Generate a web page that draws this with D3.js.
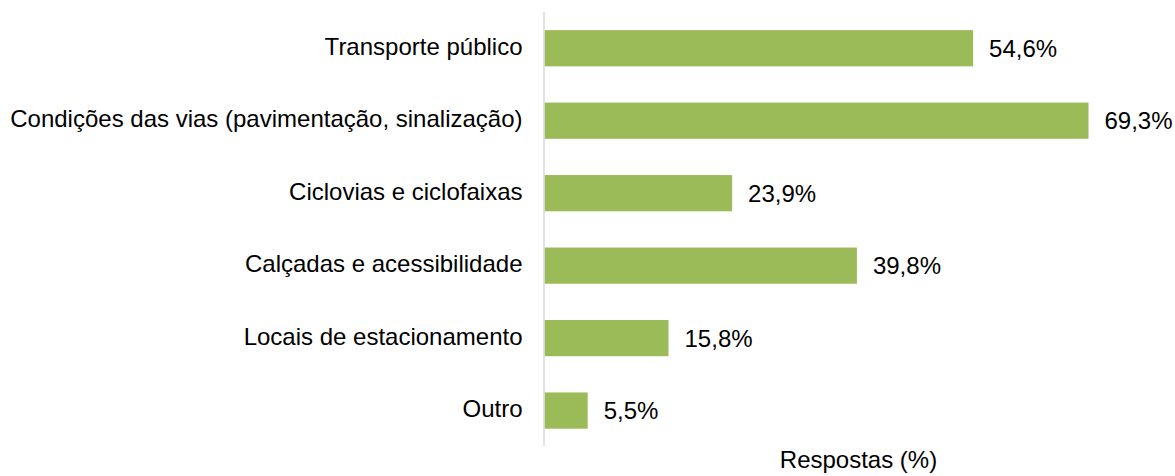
<!DOCTYPE html>
<html>
<head>
<meta charset="utf-8">
<script src="https://cdn.jsdelivr.net/npm/d3@7"></script>
<style>
  body { margin: 0; background: #fff; }
  svg text { font-family: "Liberation Sans", Arial, sans-serif; fill: #000; }
</style>
</head>
<body>
<script>
// dados do gráfico
const categorias = [
  'Transporte público',
  'Condições das vias (pavimentação, sinalização)',
  'Ciclovias e ciclofaixas',
  'Calçadas e acessibilidade',
  'Locais de estacionamento',
  'Outro'
];
const respostas = [54.6, 69.3, 23.9, 39.8, 15.8, 5.5];
const tituloEixo = 'Respostas (%)';

const width = 1175, height = 476;
const fontSize = 24;

const svg = d3.select('body')
  .append('svg')
  .attr('width', width)
  .attr('height', height);

const x = d3.scaleLinear()
  .domain([0, 80])
  .range([544.5, 1172.5]);

const y = d3.scaleBand()
  .domain(categorias)
  .range([12, 446.8])
  .paddingInner(0.5)
  .paddingOuter(0.25);

const fmt = v => d3.format('.1f')(v).replace('.', ',') + '%';

// barras
svg.append('g')
  .selectAll('rect')
  .data(respostas)
  .join('rect')
  .attr('x', x(0))
  .attr('y', (d, i) => y(categorias[i]))
  .attr('width', d => x(d) - x(0))
  .attr('height', y.bandwidth())
  .attr('fill', '#9bbb59');

// eixo vertical (só a linha, rótulos à esquerda)
const eixo = svg.append('g')
  .attr('transform', `translate(${x(0) - 1},0)`)
  .call(d3.axisLeft(y).tickSize(0).tickPadding(21));
eixo.select('.domain')
  .attr('d', `M0.5,12V446`)
  .attr('stroke', '#d9d9d9')
  .attr('stroke-width', 1.5);
eixo.selectAll('text')
  .attr('font-size', fontSize)
  .attr('dy', '0.28em')
  .style('font-family', '"Liberation Sans", Arial, sans-serif')
  .attr('fill', '#000');

// rótulos de valores
svg.append('g')
  .selectAll('text')
  .data(respostas)
  .join('text')
  .attr('x', d => x(d) + 16)
  .attr('y', (d, i) => y(categorias[i]) + y.bandwidth() / 2)
  .attr('dy', '0.36em')
  .attr('font-size', fontSize)
  .text(d => fmt(d));

// título do eixo
svg.append('text')
  .attr('x', (x.range()[0] + x.range()[1]) / 2)
  .attr('y', 468)
  .attr('text-anchor', 'middle')
  .attr('font-size', fontSize)
  .text(tituloEixo);
</script>
</body>
</html>
